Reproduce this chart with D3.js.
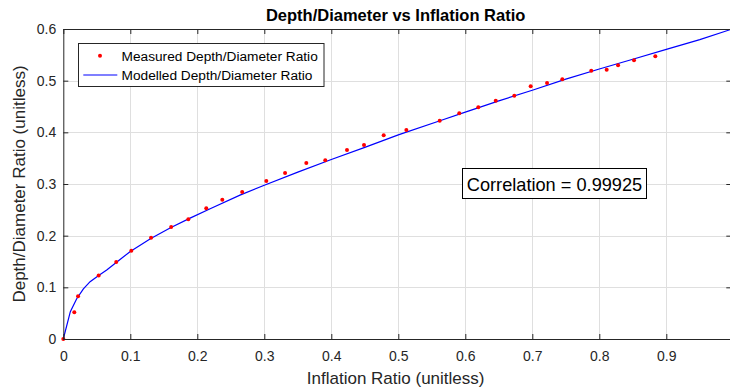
<!DOCTYPE html>
<html>
<head>
<meta charset="utf-8">
<script src="https://cdn.jsdelivr.net/npm/d3@7"></script>
<style>
  html, body { margin: 0; padding: 0; background: #fff; }
  svg { display: block; font-family: "Liberation Sans", Arial, Helvetica, sans-serif; }
</style>
</head>
<body>
<svg id="chart" width="730" height="389"></svg>
<script>
// ---- data ----
const measuredX = [0, 0.0164, 0.022, 0.0528, 0.079, 0.1015, 0.131, 0.161, 0.1866, 0.2134, 0.2373, 0.267, 0.303, 0.331, 0.3627, 0.391, 0.4234, 0.4488, 0.4782, 0.512, 0.5618, 0.591, 0.6194, 0.6454, 0.6731, 0.6976, 0.722, 0.7448, 0.788, 0.811, 0.828, 0.8518, 0.8836];
const measuredY = [0, 0.0516, 0.0826, 0.123, 0.149, 0.171, 0.196, 0.217, 0.2316, 0.253, 0.2697, 0.2845, 0.3058, 0.3213, 0.3406, 0.3458, 0.3658, 0.3755, 0.3942, 0.4045, 0.4225, 0.4368, 0.4484, 0.4612, 0.4709, 0.4891, 0.4955, 0.5026, 0.5193, 0.5212, 0.5297, 0.5397, 0.5471];
const modelX = [0, 0.0105, 0.02, 0.03, 0.04, 0.0528, 0.0648, 0.079, 0.1, 0.13, 0.16, 0.19, 0.22, 0.2637, 0.3, 0.35, 0.4, 0.45, 0.5, 0.5622, 0.6, 0.65, 0.7, 0.75, 0.8, 0.85, 0.9, 0.95, 0.995];
const modelY = [0, 0.053, 0.078, 0.097, 0.111, 0.123, 0.1335, 0.148, 0.1695, 0.194, 0.2155, 0.2345, 0.2525, 0.2785, 0.2975, 0.323, 0.3475, 0.371, 0.395, 0.4225, 0.439, 0.461, 0.4815, 0.503, 0.5225, 0.5415, 0.5607, 0.5795, 0.5986];
const xTicks = [0, 0.1, 0.2, 0.3, 0.4, 0.5, 0.6, 0.7, 0.8, 0.9];
const yTicks = [0, 0.1, 0.2, 0.3, 0.4, 0.5, 0.6];
const xDomain = [0, 0.997];
const yDomain = [0, 0.6];
const titleText = "Depth/Diameter vs Inflation Ratio";
const xLabelText = "Inflation Ratio (unitless)";
const yLabelText = "Depth/Diameter Ratio (unitless)";
const legendLabels = ["Measured Depth/Diameter Ratio", "Modelled Depth/Diameter Ratio"];
const correlationText = "Correlation = 0.99925";

// ---- layout ----
const L = 63.3, R = 731.3, T = 29, B = 339;
const axisColor = "#262626";
const svg = d3.select("#chart");

const x = d3.scaleLinear().domain(xDomain).range([L, R]);
const y = d3.scaleLinear().domain(yDomain).range([B, T]);

// grid
const grid = svg.append("g");
grid.selectAll(".gx").data(xTicks.filter(d => d > 0)).enter().append("line")
  .attr("x1", d => Math.round(x(d)) + 0.5).attr("x2", d => Math.round(x(d)) + 0.5)
  .attr("y1", T).attr("y2", B)
  .attr("stroke", "#dfdfdf").attr("stroke-width", 1);
grid.selectAll(".gy").data(yTicks.filter(d => d > 0 && d < 0.6)).enter().append("line")
  .attr("y1", d => Math.round(y(d)) + 0.5).attr("y2", d => Math.round(y(d)) + 0.5)
  .attr("x1", L).attr("x2", R)
  .attr("stroke", "#dfdfdf").attr("stroke-width", 1);

// model line
const pts = modelX.map((d, i) => [d, modelY[i]]);
svg.append("path")
  .datum(pts)
  .attr("d", d3.line().x(d => x(d[0])).y(d => y(d[1])))
  .attr("fill", "none").attr("stroke", "#0000ff").attr("stroke-width", 1.2);

// measured points
svg.append("g").selectAll("circle")
  .data(measuredX.map((d, i) => [d, measuredY[i]]))
  .enter().append("circle")
  .attr("cx", d => x(d[0])).attr("cy", d => y(d[1]))
  .attr("r", 2).attr("fill", "#ff0000");

// axes
function styleAxis(g) {
  g.selectAll("path.domain").attr("stroke", axisColor).attr("stroke-width", 1);
  g.selectAll(".tick line").attr("stroke", axisColor).attr("stroke-width", 1);
  g.selectAll(".tick text").attr("fill", axisColor).style("font-size", "14px")
    .style("font-family", '"Liberation Sans", Arial, sans-serif');
}
svg.append("g").attr("transform", `translate(0,${B})`)
  .call(d3.axisBottom(x).tickValues(xTicks).tickSize(-5).tickSizeOuter(0).tickPadding(12.5).tickFormat(d3.format("~g")))
  .call(styleAxis);
svg.append("g").attr("transform", `translate(0,${T})`)
  .call(d3.axisTop(x).tickValues(xTicks).tickSize(-5).tickSizeOuter(0).tickFormat(""))
  .call(styleAxis);
svg.append("g").attr("transform", `translate(${L},0)`)
  .call(d3.axisLeft(y).tickValues(yTicks).tickSize(-5).tickSizeOuter(0).tickPadding(7).tickFormat(d3.format("~g")))
  .call(styleAxis);
svg.append("g").attr("transform", `translate(${R},0)`)
  .call(d3.axisRight(y).tickValues(yTicks).tickSize(-5).tickSizeOuter(0).tickFormat(""))
  .call(styleAxis);

// title & labels
svg.append("text").attr("x", (L + 728) / 2).attr("y", 21)
  .attr("text-anchor", "middle").style("font-weight", "bold").style("font-size", "16.5px")
  .attr("fill", "#000").text(titleText);
svg.append("text").attr("x", (L + 728) / 2).attr("y", 383.5)
  .attr("text-anchor", "middle").style("font-size", "17px")
  .attr("fill", axisColor).text(xLabelText);
svg.append("text").attr("transform", `translate(24.5,${(T + B) / 2}) rotate(-90)`)
  .attr("text-anchor", "middle").style("font-size", "17px")
  .attr("fill", axisColor).text(yLabelText);

// legend
const lg = svg.append("g");
lg.append("rect").attr("x", 78.5).attr("y", 43.5).attr("width", 245.5).attr("height", 43)
  .attr("fill", "#fff").attr("stroke", axisColor).attr("stroke-width", 1);
lg.append("circle").attr("cx", 100).attr("cy", 55.7).attr("r", 2).attr("fill", "#ff0000");
lg.append("line").attr("x1", 83.3).attr("x2", 117.3).attr("y1", 75).attr("y2", 75)
  .attr("stroke", "#0000ff").attr("stroke-width", 1.2);
lg.selectAll("text.lt").data(legendLabels).enter().append("text")
  .attr("x", 121.5).attr("y", (d, i) => 61 + i * 19)
  .style("font-size", "13.7px").attr("fill", "#000").text(d => d);

// correlation box
const cb = svg.append("g");
cb.append("rect").attr("x", 462.5).attr("y", 168.5).attr("width", 184).attr("height", 30)
  .attr("fill", "#fff").attr("stroke", "#000").attr("stroke-width", 1);
cb.append("text").attr("x", 554.5).attr("y", 190.5).attr("text-anchor", "middle")
  .style("font-size", "18.2px").attr("fill", "#000").text(correlationText);
</script>
</body>
</html>
